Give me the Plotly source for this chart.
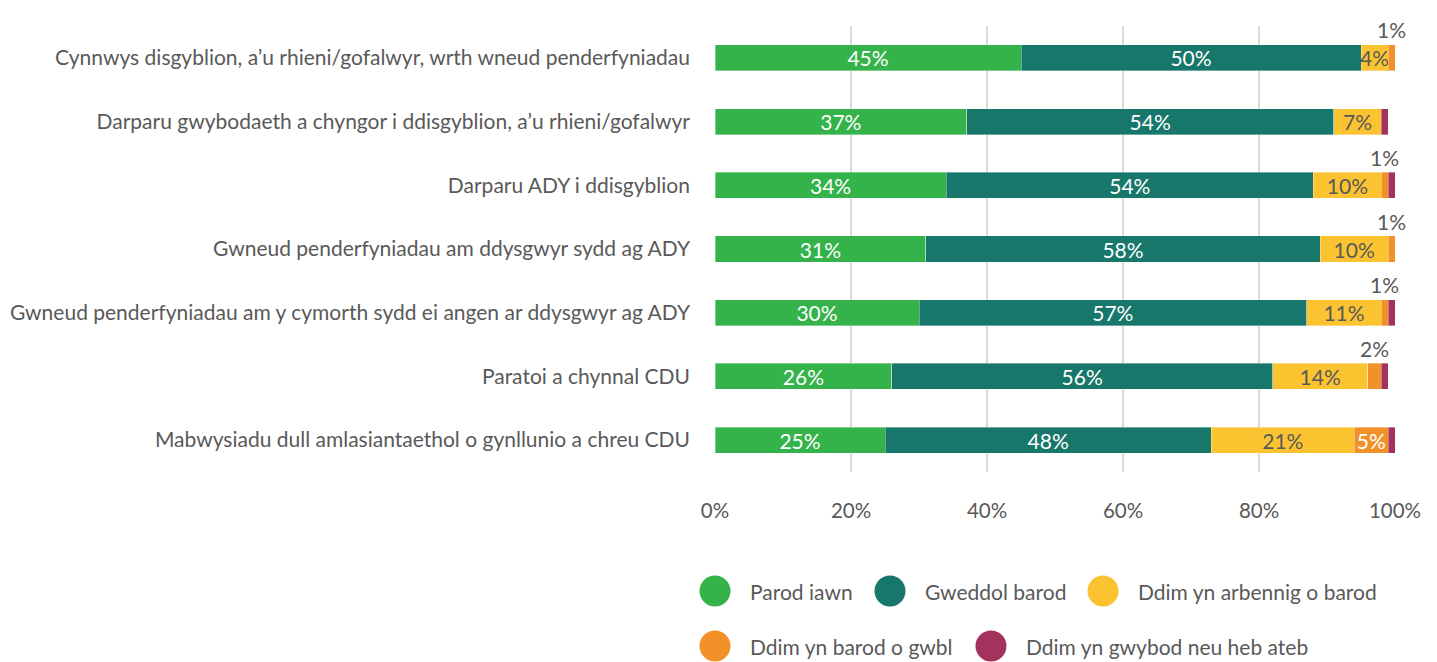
import plotly.graph_objects as go

categories = [
    "Cynnwys disgyblion, a’u rhieni/gofalwyr, wrth wneud penderfyniadau",
    "Darparu gwybodaeth a chyngor i ddisgyblion, a’u rhieni/gofalwyr",
    "Darparu ADY i ddisgyblion",
    "Gwneud penderfyniadau am ddysgwyr sydd ag ADY",
    "Gwneud penderfyniadau am y cymorth sydd ei angen ar ddysgwyr ag ADY",
    "Paratoi a chynnal CDU",
    "Mabwysiadu dull amlasiantaethol o gynllunio a chreu CDU",
]
series_names = ["Parod iawn", "Gweddol barod", "Ddim yn arbennig o barod",
                "Ddim yn barod o gwbl", "Ddim yn gwybod neu heb ateb"]
parod_iawn = [45, 37, 34, 31, 30, 26, 25]
gweddol_barod = [50, 54, 54, 58, 57, 56, 48]
ddim_arbennig = [4, 7, 10, 10, 11, 14, 21]
ddim_barod = [1, 0, 1, 1, 1, 2, 5]
ddim_gwybod = [0, 1, 1, 1, 1, 1, 1]
x_ticks = [0, 20, 40, 60, 80, 100]
x_tick_labels = ["0%", "20%", "40%", "60%", "80%", "100%"]

series = [parod_iawn, gweddol_barod, ddim_arbennig, ddim_barod, ddim_gwybod]
colors = ["#34b34a", "#17776a", "#fcc331", "#f39129", "#a3325c"]
text_colors = ["white", "white", "#595959", "white", "white"]
FONT = "Source Sans Pro, Lato, sans-serif"
GREY = "#595959"

# page offset of the plot div (body margin)
OFF = 8
FIG_W, FIG_H = 1437 - OFF, 662 - OFF
# plot area in page pixels
plot_l, plot_r, plot_t, plot_b = 715, 1395, 26, 472
W = plot_r - plot_l
H = plot_b - plot_t

fig = go.Figure()
for i, (name, vals) in enumerate(zip(series_names, series)):
    if i == 4:
        txt = ["" for v in vals]
    else:
        txt = [f"{v}%" if v >= 4 else "" for v in vals]
    fig.add_trace(go.Bar(
        y=categories, x=vals, name=name, orientation="h",
        marker=dict(color=colors[i], line=dict(color="rgba(255,255,255,0.6)", width=0.6)),
        text=txt, textposition="inside", insidetextanchor="middle",
        textangle=0, constraintext="none",
        textfont=dict(family=FONT, size=21, color=text_colors[i]),
        showlegend=False, hoverinfo="x+y+name",
    ))

# small "Ddim yn barod o gwbl" values labelled above bar
for j, cat in enumerate(categories):
    v = ddim_barod[j]
    if 0 < v < 4:
        left = parod_iawn[j] + gweddol_barod[j] + ddim_arbennig[j]
        fig.add_annotation(x=left + v / 2, y=cat, text=f"{v}%", showarrow=False,
                           yshift=28, yanchor="middle",
                           font=dict(family=FONT, size=21, color=GREY))

# custom legend
leg_rows = [[0, 1, 2], [3, 4]]
circle_px = [[715, 890, 1103], [715, 991]]
row_py = [591, 646]
for r, row in enumerate(leg_rows):
    yp = (plot_b - row_py[r]) / H
    for k, idx in enumerate(row):
        xp = (circle_px[r][k] - plot_l) / W
        fig.add_shape(type="circle", xref="paper", yref="paper",
                      xsizemode="pixel", ysizemode="pixel",
                      xanchor=xp, yanchor=yp, x0=-15.5, x1=15.5, y0=-15.5, y1=15.5,
                      fillcolor=colors[idx], line=dict(width=0))
        fig.add_annotation(xref="paper", yref="paper", x=xp, y=yp, xshift=33,
                           xanchor="left", yanchor="middle", showarrow=False,
                           text=series_names[idx],
                           font=dict(family=FONT, size=21, color=GREY))

fig.update_layout(
    barmode="stack",
    bargap=0.59,
    width=FIG_W, height=FIG_H,
    margin=dict(l=plot_l - OFF, r=FIG_W - (plot_r - OFF), t=plot_t - OFF,
                b=FIG_H - (plot_b - OFF), autoexpand=False),
    plot_bgcolor="white", paper_bgcolor="white",
    font=dict(family=FONT, color=GREY),
    xaxis=dict(range=[0, 100], tickvals=x_ticks, ticktext=x_tick_labels,
               showgrid=True, gridcolor="#d9d9d9", gridwidth=2,
               zeroline=False, showline=False, ticks="", automargin=False,
               ticklabelstandoff=24,
               tickfont=dict(family=FONT, size=20.5, color=GREY)),
    yaxis=dict(autorange="reversed", showgrid=False, zeroline=False,
               showline=False, ticks="", ticklabelstandoff=24, automargin=False,
               tickfont=dict(family=FONT, size=21, color=GREY)),
)

fig.write_html("out.html")
